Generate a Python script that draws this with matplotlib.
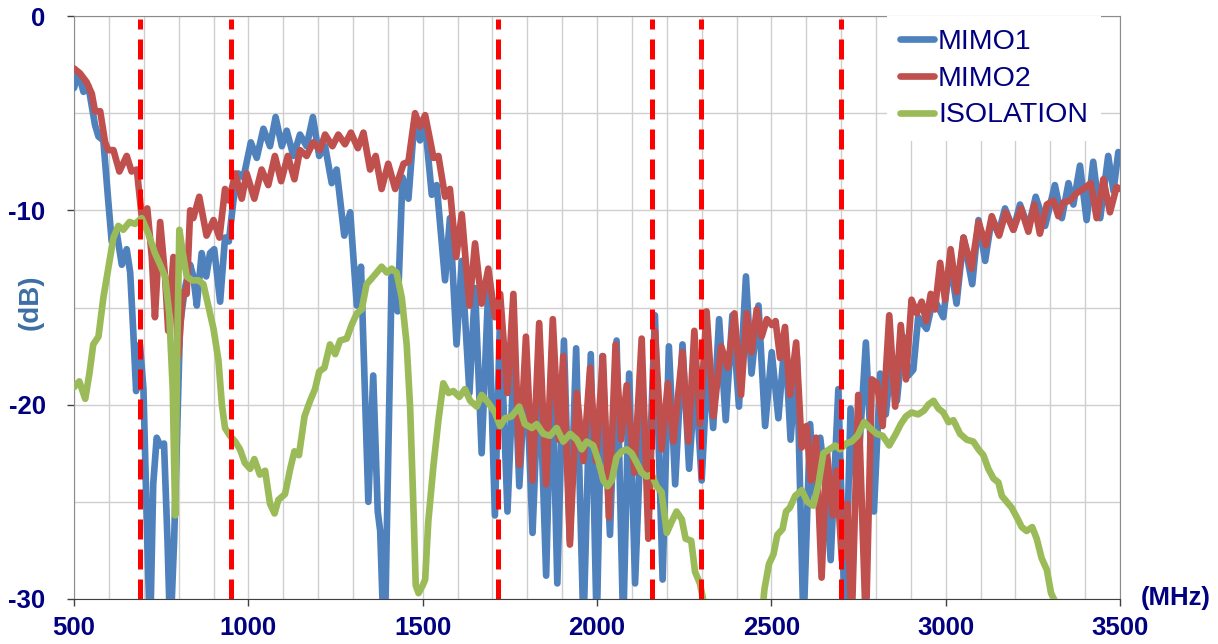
import numpy as np
import matplotlib
matplotlib.use("Agg")
import matplotlib.pyplot as plt
from matplotlib.ticker import MultipleLocator

# ---- data (MHz, dB) ----
mimo1_freq = [500, 512, 527, 541, 560, 570, 584, 598, 608, 622, 637, 651, 661, 670, 678, 689, 699,
              710, 718, 727, 737, 747, 758, 768, 776, 787, 796, 804, 818, 833, 842, 852, 866, 879,
              890, 902, 919, 933, 944, 957, 971, 986, 1007, 1024, 1043, 1062, 1078, 1096, 1110,
              1129, 1148, 1167, 1185, 1203, 1220, 1239, 1253, 1275, 1292, 1311, 1323, 1344, 1358,
              1371, 1378, 1390, 1411, 1428, 1442, 1459, 1476, 1492, 1507, 1526, 1540, 1564, 1578,
              1597, 1612, 1634, 1650, 1669, 1688, 1707, 1722, 1743, 1762, 1777, 1796, 1815, 1834,
              1854, 1870, 1886, 1905, 1922, 1940, 1961, 1982, 1999, 2015, 2037, 2056, 2075, 2092,
              2109, 2130, 2148, 2166, 2188, 2206, 2224, 2245, 2264, 2282, 2300, 2318, 2333, 2350,
              2369, 2388, 2407, 2427, 2443, 2463, 2482, 2501, 2520, 2539, 2555, 2573, 2592, 2611,
              2625, 2640, 2655, 2670, 2692, 2711, 2727, 2745, 2771, 2794, 2812, 2828, 2845, 2860,
              2878, 2893, 2907, 2921, 2945, 2965, 2993, 3012, 3031, 3051, 3076, 3094, 3113, 3132,
              3151, 3170, 3194, 3213, 3237, 3258, 3285, 3313, 3333, 3352, 3366, 3385, 3404, 3423,
              3443, 3466, 3481, 3495, 3500]
mimo1_db = [-3.7, -2.9, -3.9, -3.6, -5.6, -6.2, -6.4, -9.5, -11.6, -11.1, -12.8, -12.0, -13.2, -16.3,
            -19.3, -16.9, -19.2, -27, -32, -24.1, -21.7, -22.1, -22, -27, -32, -27, -21.2, -15.9,
            -14, -12.8, -13.4, -14.9, -12.2, -13.4, -12.2, -12.0, -14.7, -11.4, -11.6, -9.5, -8.1,
            -8.3, -6.5, -7.3, -5.8, -6.7, -5.2, -6.7, -5.9, -7.2, -6.1, -6.7, -5.2, -7.2, -6.7,
            -8.6, -7.9, -11.3, -10.1, -14.9, -12.9, -25, -18.5, -25.5, -26.5, -33, -13.4, -15.2,
            -8.3, -9.4, -5.4, -6.4, -5.6, -9.2, -8.7, -13.6, -10.4, -16.9, -12.6, -19.4, -14,
            -22.5, -14, -25.7, -15.3, -25.5, -17.3, -24.2, -17.9, -26.6, -17.9, -28.8, -17.3,
            -29.2, -16.7, -27, -17.1, -31.5, -17.4, -31.5, -17.5, -26.7, -16.7, -31.5, -18.4,
            -29.2, -19.5, -24.5, -15.4, -29, -17, -24.1, -16.9, -23.3, -18.5, -23.9, -17.5,
            -21.2, -15.6, -20.8, -15.4, -20.1, -13.4, -18.4, -14.9, -21.1, -17.3, -20.7, -16.5,
            -21.8, -17.5, -31.5, -21, -25, -21.7, -24, -28, -19.2, -31.5, -20.2, -24.4, -16.8,
            -25.5, -18.4, -20.5, -17.5, -19.8, -16.5, -18.5, -18.2, -15.5, -16.1, -14.5, -15.5,
            -12.6, -14.8, -11.4, -13.8, -10.5, -12.6, -10.4, -11.2, -9.9, -11.0, -9.7, -10.9,
            -9.3, -10.8, -8.7, -10.4, -8.6, -9.7, -7.7, -10.5, -7.5, -10.4, -7.2, -9.0, -7.0, -7.1]

mimo2_freq = [500, 517, 536, 551, 560, 575, 589, 598, 613, 630, 651, 665, 680, 694, 710, 723, 732,
              747, 761, 770, 785, 799, 812, 823, 833, 842, 859, 880, 900, 917, 933, 945, 962, 981,
              995, 1017, 1038, 1057, 1076, 1094, 1113, 1132, 1148, 1167, 1186, 1205, 1220, 1241,
              1258, 1277, 1294, 1314, 1330, 1349, 1365, 1382, 1401, 1421, 1445, 1459, 1478, 1492,
              1507, 1531, 1545, 1564, 1578, 1596, 1612, 1634, 1650, 1669, 1688, 1707, 1722, 1743,
              1760, 1777, 1796, 1815, 1834, 1854, 1873, 1890, 1903, 1922, 1942, 1961, 1980, 1997,
              2017, 2034, 2053, 2069, 2085, 2107, 2128, 2147, 2166, 2185, 2203, 2219, 2245, 2262,
              2279, 2295, 2314, 2334, 2356, 2375, 2394, 2413, 2429, 2443, 2458, 2472, 2487, 2501,
              2512, 2525, 2539, 2553, 2571, 2587, 2601, 2613, 2628, 2644, 2659, 2676, 2687, 2702,
              2718, 2730, 2749, 2771, 2788, 2803, 2819, 2838, 2855, 2871, 2886, 2902, 2917, 2931,
              2944, 2957, 2969, 2984, 2998, 3014, 3031, 3051, 3074, 3094, 3115, 3132, 3153, 3172,
              3194, 3216, 3237, 3254, 3270, 3290, 3309, 3323, 3337, 3356, 3376, 3395, 3416, 3433,
              3452, 3471, 3490, 3500]
mimo2_db = [-2.7, -2.95, -3.4, -4.0, -4.9, -4.9, -6.5, -6.9, -6.9, -8.0, -7.2, -8.0, -7.9, -10.3,
            -9.9, -12.4, -15.5, -10.6, -13.4, -16.2, -12.4, -17.5, -14.2, -14.3, -10, -10.4, -9.3,
            -11.3, -10.5, -11.4, -8.9, -9.5, -8.1, -9.4, -8.1, -9.4, -7.9, -8.7, -7.2, -8.5, -7.2,
            -8.4, -6.9, -7.2, -6.5, -6.9, -6.1, -6.7, -6.1, -6.6, -6.0, -6.8, -6.0, -7.9, -7.2,
            -8.9, -7.6, -8.9, -7.6, -7.5, -5.0, -5.7, -5.1, -7.3, -7.2, -9.3, -8.9, -12.4, -10.2,
            -14.9, -11.7, -14.8, -13, -15.5, -14.3, -19.4, -14.3, -23.1, -16.5, -23.9, -15.8,
            -24.1, -15.6, -21.8, -17.5, -27.2, -19.4, -22.9, -18.1, -22.9, -17.5, -25.8, -16.9,
            -21.8, -19.0, -23.5, -16.6, -26.9, -16.2, -22.3, -18.9, -21.9, -17.3, -21.9, -16.2,
            -21, -15.2, -20.6, -17, -18.1, -15.3, -19.5, -15.3, -17.3, -15.1, -16.5, -15.6, -15.9,
            -15.7, -17.6, -16.0, -19.5, -16.8, -22.2, -21.1, -23.9, -21.7, -28.9, -22.4, -25.7,
            -23.4, -28, -25.1, -31.5, -19.5, -31.5, -18.7, -18.9, -21.1, -15.4, -20.1, -15.9,
            -18.7, -14.6, -15.3, -14.7, -15.7, -14.3, -15.1, -12.7, -14.6, -12.0, -14.2, -11.4,
            -13, -10.6, -11.8, -10.3, -11.3, -10.1, -11, -9.9, -11.1, -9.7, -11.2, -9.7, -9.5,
            -10.3, -9.6, -9.5, -9.1, -8.9, -8.6, -10.4, -8.4, -10.1, -8.8, -8.9]

iso_freq = [500, 515, 532, 544, 555, 570, 584, 598, 613, 627, 641, 659, 675, 694, 713, 732, 747, 761,
            773, 783, 790, 796, 802, 812, 823, 838, 857, 871, 885, 900, 914, 924, 933, 947, 962,
            976, 990, 1005, 1017, 1033, 1048, 1062, 1075, 1086, 1105, 1120, 1132, 1145, 1161, 1177,
            1191, 1203, 1218, 1234, 1249, 1263, 1282, 1296, 1311, 1325, 1339, 1354, 1368, 1382,
            1397, 1411, 1425, 1440, 1454, 1464, 1473, 1480, 1488, 1500, 1507, 1516, 1531, 1545,
            1559, 1574, 1588, 1605, 1621, 1636, 1655, 1669, 1688, 1707, 1722, 1736, 1755, 1777,
            1793, 1813, 1827, 1846, 1865, 1884, 1903, 1923, 1942, 1956, 1970, 1989, 2004, 2018,
            2030, 2042, 2056, 2071, 2085, 2099, 2114, 2128, 2142, 2157, 2171, 2185, 2200, 2212,
            2228, 2243, 2254, 2270, 2281, 2295, 2305, 2312, 2472, 2480, 2493, 2506, 2517, 2532,
            2542, 2553, 2568, 2587, 2603, 2620, 2635, 2649, 2666, 2683, 2697, 2714, 2730, 2747,
            2766, 2783, 2802, 2819, 2838, 2857, 2871, 2886, 2902, 2921, 2938, 2950, 2965, 2979,
            2993, 3008, 3022, 3041, 3060, 3079, 3094, 3108, 3122, 3137, 3151, 3161, 3175, 3189,
            3204, 3218, 3232, 3248, 3261, 3275, 3290, 3302, 3313, 3325]
iso_db = [-19.1, -18.8, -19.7, -18.4, -16.9, -16.5, -14.5, -13, -11.4, -10.8, -11, -10.6, -10.7,
          -10.4, -11.2, -12.2, -12.8, -13.4, -15.3, -19.2, -25.7, -16.9, -11, -12.2, -13.4, -13.6,
          -13.6, -13.8, -14.9, -16.1, -17.7, -20, -21.2, -21.6, -21.9, -22.3, -23.0, -23.3, -22.8,
          -23.6, -23.4, -25.1, -25.6, -24.9, -24.6, -23.3, -22.4, -22.6, -20.6, -19.8, -19.2,
          -18.3, -18.1, -16.9, -17.4, -16.7, -16.6, -15.9, -15.3, -15.1, -13.8, -13.5, -13.2,
          -12.9, -13.2, -13, -13.2, -14.5, -16.9, -20.2, -25.1, -29.3, -29.7, -29.3, -29, -26,
          -23.1, -20.8, -18.9, -19.4, -19.3, -19.6, -19.2, -19.8, -20.1, -19.5, -19.9, -20.4,
          -21.1, -20.7, -20.6, -20.1, -21, -21.2, -21, -21.5, -21.6, -21.2, -21.9, -21.5, -21.8,
          -22.3, -21.9, -22.1, -22.9, -23.9, -24.2, -23.9, -22.7, -22.4, -22.3, -22.5, -23,
          -23.5, -23.7, -23.6, -24.2, -24.5, -26.6, -26.1, -25.5, -25.9, -26.9, -27, -28.6,
          -29.2, -30.1, -31, -31, -29.5, -28.2, -27.7, -26.7, -26.4, -25.5, -25.3, -24.7, -24.4,
          -25, -25.2, -24.1, -22.5, -22.3, -22.1, -22.3, -22, -21.9, -21.6, -20.9, -21.2, -21.5,
          -21.6, -22.1, -21.5, -21, -20.6, -20.4, -20.5, -20.3, -20, -19.8, -20.2, -20.4, -20.9,
          -20.8, -21.5, -21.8, -21.9, -22.3, -22.6, -23.3, -23.8, -24, -24.7, -25, -25.3, -25.8,
          -26.3, -26.5, -26.3, -26.9, -27.9, -28.5, -29.7, -30.1, -31]

# band edges (red dashed markers)
band_edges = [690, 950, 1715, 2157, 2297, 2700]

navy = "#000080"
plt.rcParams['font.family'] = ['Liberation Sans', 'DejaVu Sans']
plt.rcParams['axes.unicode_minus'] = False

fig = plt.figure(figsize=(12.18, 6.44), dpi=100)
ax = fig.add_axes([0.0608, 0.0699, 0.8588, 0.9052])

lw = 4.8
ax.plot(mimo1_freq, mimo1_db, color="#4F81BD", lw=lw, label="MIMO1",
        solid_joinstyle="round", solid_capstyle="round", zorder=3)
ax.plot(mimo2_freq, mimo2_db, color="#C0504D", lw=lw, label="MIMO2",
        solid_joinstyle="round", solid_capstyle="round", zorder=4)
ax.plot(iso_freq, iso_db, color="#9BBB59", lw=lw, label="ISOLATION",
        solid_joinstyle="round", solid_capstyle="round", zorder=5)

for f in band_edges:
    ax.axvline(f, color="#FF0000", lw=3.6, dashes=(4, 2), ymax=0.995, zorder=6)

ax.set_xlim(500, 3500)
ax.set_ylim(-30, 0)
ax.xaxis.set_major_locator(MultipleLocator(500))
ax.xaxis.set_minor_locator(MultipleLocator(100))
ax.yaxis.set_major_locator(MultipleLocator(10))
ax.yaxis.set_minor_locator(MultipleLocator(5))
ax.grid(True, which="both", color="#CFCFCF", lw=1.0, zorder=0)
ax.set_axisbelow(True)

ax.tick_params(axis="x", which="major", direction="out", length=5, width=1,
               color="#404040", pad=7, labelsize=18.5, labelcolor=navy)
ax.tick_params(axis="y", which="major", direction="out", length=5, width=1,
               color="#404040", pad=15.5, labelsize=18.5, labelcolor=navy)
ax.tick_params(which="minor", length=0)
for lab in ax.get_xticklabels() + ax.get_yticklabels():
    lab.set_fontweight("bold")

for side in ["top", "right", "left"]:
    ax.spines[side].set_color("#8C8C8C")
ax.spines["bottom"].set_color("#404040")

fig.text(31 / 1218, 1 - 302 / 644, "(dB)", rotation=90, ha="center", va="center",
         fontsize=20, fontweight="bold", color="#3C6EA5")
fig.text(1176 / 1218, 1 - 598 / 644, "(MHz)", ha="center", va="center",
         fontsize=18.5, fontweight="bold", color=navy)

leg = ax.legend(loc="upper left", bbox_to_anchor=(0.777, 1.0), fontsize=20.5,
                frameon=True, fancybox=False, framealpha=1, borderaxespad=0,
                borderpad=0.45, labelspacing=0.38, handlelength=1.2, handletextpad=0.15)
leg.get_frame().set_edgecolor("none")
leg.get_frame().set_facecolor("white")
for t in leg.get_texts():
    t.set_color(navy)
for h in leg.get_lines():
    h.set_linewidth(4.8)
leg.set_zorder(10)

fig.savefig("out.png", dpi=100)
